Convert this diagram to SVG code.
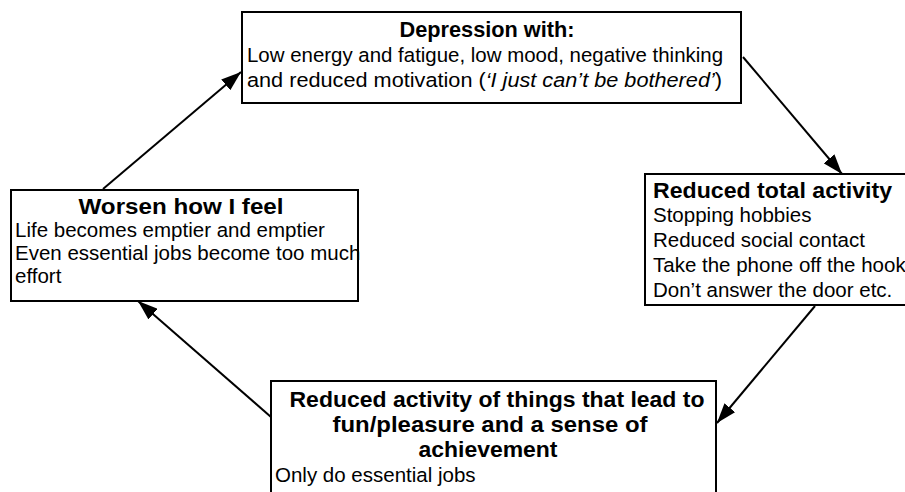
<svg xmlns="http://www.w3.org/2000/svg" width="905" height="492" viewBox="0 0 905 492">
<style>
  .box { fill: #ffffff; stroke: #000000; stroke-width: 2; }
  .t { font-family: "Liberation Sans", Arial, sans-serif; font-size: 20.5px; fill: #000000; }
  .b { font-family: "Liberation Sans", Arial, sans-serif; font-size: 22px; font-weight: bold; fill: #000000; }
  .c { text-anchor: middle; }
  .edge { stroke: #000000; stroke-width: 2; fill: none; marker-end: url(#arrow); }
</style>
<defs>
  <marker id="arrow" markerUnits="userSpaceOnUse" markerWidth="22" markerHeight="14" refX="20" refY="7" orient="auto">
    <path d="M0,0 L20,7 L0,14 Z" fill="#000000"/>
  </marker>
</defs>
<rect width="905" height="492" fill="#ffffff"/>

<g id="connectors">
  <line class="edge" x1="743" y1="57" x2="842" y2="174"/>
  <line class="edge" x1="815" y1="306" x2="717" y2="423"/>
  <line class="edge" x1="271" y1="417" x2="138" y2="301"/>
  <line class="edge" x1="103" y1="189" x2="241" y2="72"/>
</g>

<g id="depression">
  <rect class="box" x="242" y="12" width="499" height="91"/>
  <text class="b c" x="487" y="37" textLength="175" lengthAdjust="spacingAndGlyphs">Depression with:</text>
  <text class="t" x="247" y="62" textLength="476" lengthAdjust="spacingAndGlyphs">Low energy and fatigue, low mood, negative thinking</text>
  <text class="t" x="247" y="87" textLength="475" lengthAdjust="spacingAndGlyphs">and reduced motivation (<tspan font-style="italic">‘I just can’t be bothered’</tspan>)</text>
</g>

<g id="reduced-total">
  <rect class="box" x="645" y="174" width="270" height="131"/>
  <text class="b" x="653" y="198" textLength="239" lengthAdjust="spacingAndGlyphs">Reduced total activity</text>
  <text class="t" x="653" y="222">Stopping hobbies</text>
  <text class="t" x="653" y="247">Reduced social contact</text>
  <text class="t" x="653" y="272">Take the phone off the hook</text>
  <text class="t" x="653" y="297">Don’t answer the door etc.</text>
</g>

<g id="reduced-fun">
  <rect class="box" x="271" y="381" width="445" height="130"/>
  <text class="b c" x="497" y="407" textLength="415" lengthAdjust="spacingAndGlyphs">Reduced activity of things that lead to</text>
  <text class="b c" x="490" y="432" textLength="315" lengthAdjust="spacingAndGlyphs">fun/pleasure and a sense of</text>
  <text class="b c" x="488" y="457" textLength="139" lengthAdjust="spacingAndGlyphs">achievement</text>
  <text class="t" x="275" y="482">Only do essential jobs</text>
</g>

<g id="worsen">
  <rect class="box" x="11" y="190" width="347" height="111"/>
  <text class="b c" x="181" y="214" textLength="205" lengthAdjust="spacingAndGlyphs">Worsen how I feel</text>
  <text class="t" x="15" y="237">Life becomes emptier and emptier</text>
  <text class="t" x="15" y="260">Even essential jobs become too much</text>
  <text class="t" x="15" y="283">effort</text>
</g>
</svg>
